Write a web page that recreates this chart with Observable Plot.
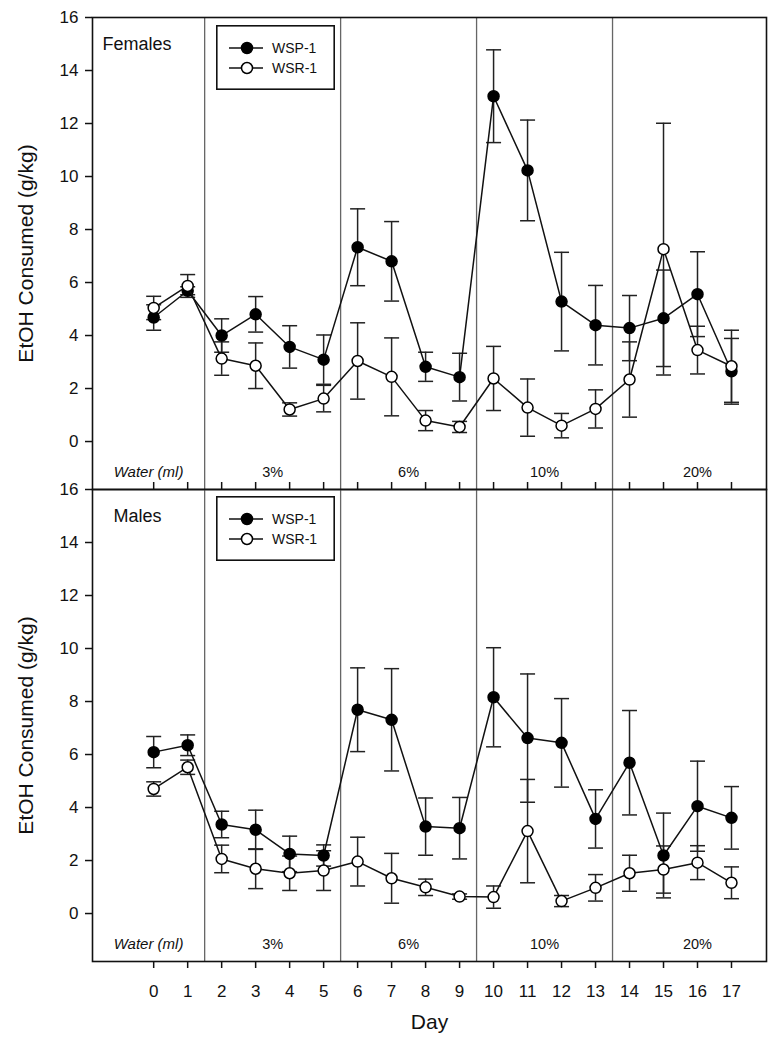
<!DOCTYPE html>
<html>
<head>
<meta charset="utf-8">
<script src="https://cdn.jsdelivr.net/npm/d3@7"></script>
<script src="https://cdn.jsdelivr.net/npm/@observablehq/plot@0.6"></script>
<style>
  body { margin: 0; background: #fff; font-family: "Liberation Sans", Arial, sans-serif; }
  #wrap { position: relative; width: 777px; height: 1048px; overflow: hidden; }
  #wrap > svg.panel { position: absolute; left: 0; }
  #wrap > svg.legend { position: absolute; left: 216px; }
</style>
</head>
<body>
<div id="wrap"></div>
<script>
// ---- data ----
const days = [0, 1, 2, 3, 4, 5, 6, 7, 8, 9, 10, 11, 12, 13, 14, 15, 16, 17];
const yTicks = [0, 2, 4, 6, 8, 10, 12, 14, 16];
const dividers = [1.5, 5.5, 9.5, 13.5];
const concLabels = ["Water (ml)", "3%", "6%", "10%", "20%"];
const concDay = [-0.15, 3.5, 7.5, 11.5, 16];
const seriesNames = ["WSP-1", "WSR-1"];

const femWSP = [4.68, 5.69, 4.0, 4.8, 3.57, 3.09, 7.33, 6.8, 2.82, 2.43, 13.03, 10.23, 5.28, 4.39, 4.28, 4.65, 5.56, 2.65];
const femWSPerr = [0.48, 0.15, 0.63, 0.67, 0.8, 0.93, 1.45, 1.5, 0.55, 0.9, 1.75, 1.9, 1.86, 1.5, 1.23, 1.82, 1.6, 1.24];
const femWSR = [5.04, 5.87, 3.13, 2.86, 1.21, 1.62, 3.04, 2.44, 0.79, 0.55, 2.38, 1.28, 0.6, 1.23, 2.34, 7.26, 3.45, 2.84];
const femWSRerr = [0.44, 0.43, 0.63, 0.86, 0.25, 0.5, 1.44, 1.47, 0.38, 0.21, 1.21, 1.08, 0.46, 0.72, 1.42, 4.75, 0.9, 1.36];

const maleWSP = [6.09, 6.35, 3.36, 3.16, 2.25, 2.19, 7.69, 7.31, 3.28, 3.22, 8.16, 6.62, 6.44, 3.57, 5.69, 2.19, 4.05, 3.61];
const maleWSPerr = [0.59, 0.39, 0.5, 0.74, 0.67, 0.4, 1.58, 1.93, 1.08, 1.16, 1.87, 2.42, 1.67, 1.1, 1.97, 1.6, 1.7, 1.18];
const maleWSR = [4.7, 5.52, 2.06, 1.69, 1.52, 1.62, 1.96, 1.33, 0.99, 0.64, 0.62, 3.11, 0.47, 0.97, 1.52, 1.66, 1.92, 1.16];
const maleWSRerr = [0.27, 0.27, 0.52, 0.75, 0.65, 0.75, 0.92, 0.94, 0.31, 0.1, 0.42, 1.95, 0.21, 0.5, 0.68, 0.89, 0.64, 0.6];

// ---- helpers ----
const FONT = '"Liberation Sans", Arial, sans-serif';
const rows = (mean, err) => days.map((d, i) => ({day: d, v: mean[i], e: err[i]}));
const capSymbol = {draw(ctx) { ctx.moveTo(-7.5, 0); ctx.lineTo(7.5, 0); }};

function errMarks(data) {
  return [
    Plot.ruleX(data, {x: "day", y1: d => d.v - d.e, y2: d => d.v + d.e, stroke: "#222", strokeWidth: 1.5}),
    Plot.dot(data, {x: "day", y: d => d.v + d.e, symbol: capSymbol, r: 5, stroke: "#222", strokeWidth: 1.5, fill: "none"}),
    Plot.dot(data, {x: "day", y: d => d.v - d.e, symbol: capSymbol, r: 5, stroke: "#222", strokeWidth: 1.5, fill: "none"})
  ];
}

function panel({title, titleDx, wsp, wsr, bottom, top, height, marginTop, marginBottom}) {
  const a = rows(wsp[0], wsp[1]);
  const b = rows(wsr[0], wsr[1]);
  const marks = [
    Plot.ruleX(dividers, {stroke: "#666", strokeWidth: 1.3}),
    Plot.axisY({ticks: yTicks, tickSize: 7, tickPadding: 7, fontSize: 17, strokeWidth: 1.5, label: null}),
    Plot.text([title], {frameAnchor: "top-left", dx: titleDx, dy: 20, fontSize: 18, textAnchor: "start", fill: "#111"}),
    Plot.text(["EtOH Consumed (g/kg)"], {frameAnchor: "left", rotate: -90, dx: -66, fontSize: 21, textAnchor: "middle", fill: "#111"}),
    Plot.text(concLabels.slice(0, 1), {x: (d, i) => concDay[i], y: () => -1.15, fontSize: 15, fontStyle: "italic", fill: "#111"}),
    Plot.text(concLabels.slice(1), {x: (d, i) => concDay[i + 1], y: () => -1.15, fontSize: 14.5, fill: "#111"}),
    ...errMarks(a),
    ...errMarks(b),
    Plot.line(a, {x: "day", y: "v", stroke: "#111", strokeWidth: 1.5}),
    Plot.dot(a, {x: "day", y: "v", r: 5.5, fill: "#000", stroke: "#000", strokeWidth: 1.5}),
    Plot.line(b, {x: "day", y: "v", stroke: "#111", strokeWidth: 1.5}),
    Plot.dot(b, {x: "day", y: "v", r: 5.5, fill: "#fff", stroke: "#000", strokeWidth: 1.5}),
    Plot.frame({stroke: "#111", strokeWidth: 1.6})
  ];
  if (bottom) {
    marks.push(Plot.axisX({ticks: days, tickSize: 7, tickPadding: 16, fontSize: 17, strokeWidth: 1.5, label: null}));
    marks.push(Plot.text(["Day"], {frameAnchor: "bottom", dy: 67, fontSize: 21, fill: "#111"}));
  } else {
    marks.push(Plot.tickX(days, {x: d => d, insetTop: 465, stroke: "#111", strokeWidth: 1.5}));
  }
  const svg = Plot.plot({
    width: 777,
    height,
    marginLeft: 92,
    marginRight: 11,
    marginTop,
    marginBottom,
    style: {background: "transparent", overflow: "visible", fontFamily: FONT, color: "#111"},
    x: {domain: [-1.8, 18.03], label: null, axis: bottom ? undefined : null},
    y: {domain: [-1.81, 16], label: null},
    marks
  });
  svg.classList.add("panel");
  svg.style.top = top + "px";
  return svg;
}

function legend(topPx) {
  const svg = d3.create("svg").attr("class", "legend").attr("width", 119).attr("height", 65)
    .style("top", topPx + "px").style("background", "#fff");
  svg.append("rect").attr("x", 0.8).attr("y", 0.8).attr("width", 117.4).attr("height", 63.4)
    .attr("fill", "#fff").attr("stroke", "#111").attr("stroke-width", 1.6);
  seriesNames.forEach((name, i) => {
    const y = 23 + i * 20;
    svg.append("line").attr("x1", 13).attr("x2", 47).attr("y1", y).attr("y2", y)
      .attr("stroke", "#111").attr("stroke-width", 1.5);
    svg.append("circle").attr("cx", 31).attr("cy", y).attr("r", 5.5)
      .attr("fill", i === 0 ? "#000" : "#fff").attr("stroke", "#000").attr("stroke-width", 1.5);
    svg.append("text").attr("x", 56).attr("y", y).attr("dy", "0.35em")
      .attr("font-size", 14).attr("font-family", FONT).attr("fill", "#111").text(name);
  });
  return svg.node();
}

const wrap = document.getElementById("wrap");
wrap.appendChild(panel({title: "Females", titleDx: 10, wsp: [femWSP, femWSPerr], wsr: [femWSR, femWSRerr],
  bottom: false, top: 0, height: 490, marginTop: 17, marginBottom: 1}));
wrap.appendChild(panel({title: "Males", titleDx: 21, wsp: [maleWSP, maleWSPerr], wsr: [maleWSR, maleWSRerr],
  bottom: true, top: 480, height: 568, marginTop: 9, marginBottom: 87}));
wrap.appendChild(legend(25));
wrap.appendChild(legend(496));
</script>
</body>
</html>
